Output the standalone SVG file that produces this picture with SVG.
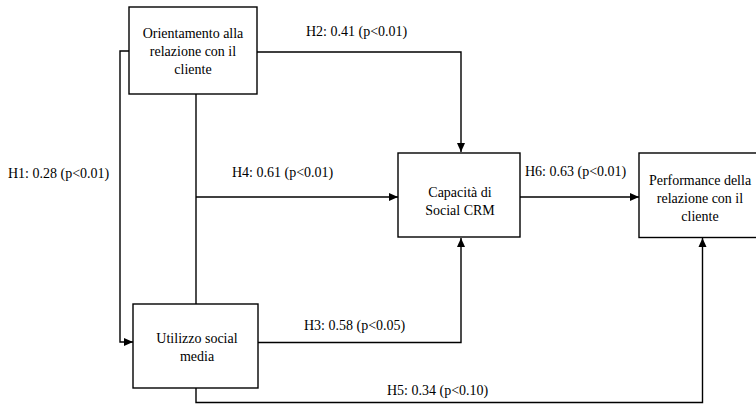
<svg xmlns="http://www.w3.org/2000/svg" width="756" height="404" viewBox="0 0 756 404">
<style>
.box{fill:#fff;stroke:#000;stroke-width:1.4}
.ln{fill:none;stroke:#000;stroke-width:1.4}
text{font-family:'Liberation Serif','Tinos','DejaVu Serif',serif;font-size:14px;fill:#000}
.c{text-anchor:middle}
</style>
<defs>
<marker id="ah" markerUnits="userSpaceOnUse" markerWidth="10" markerHeight="10" refX="9" refY="5" orient="auto">
<path d="M0,1 L9,5 L0,9 Z" fill="#000"/>
</marker>
</defs>
<rect width="756" height="404" fill="#fff"/>
<g id="connectors">
<path class="ln" d="M257,52 H461 V152" marker-end="url(#ah)"/>
<path class="ln" d="M129,51 H120 V342 H133" marker-end="url(#ah)"/>
<path class="ln" d="M196,94 V304"/>
<path class="ln" d="M196,197 H398" marker-end="url(#ah)"/>
<path class="ln" d="M258,342.5 H461 V238" marker-end="url(#ah)"/>
<path class="ln" d="M520,197 H639" marker-end="url(#ah)"/>
<path class="ln" d="M196,388 V402.5 H702.5 V238" marker-end="url(#ah)"/>
<text x="306" y="36" font-family="Liberation Serif, serif">H2: 0.41 (p&lt;0.01)</text>
<text x="8" y="178" font-family="Liberation Serif, serif">H1: 0.28 (p&lt;0.01)</text>
<text x="232" y="177" font-family="Liberation Serif, serif">H4: 0.61 (p&lt;0.01)</text>
<text x="525" y="176" font-family="Liberation Serif, serif">H6: 0.63 (p&lt;0.01)</text>
<text x="304" y="330" font-family="Liberation Serif, serif">H3: 0.58 (p&lt;0.05)</text>
<text x="387" y="395" font-family="Liberation Serif, serif">H5: 0.34 (p&lt;0.10)</text>
</g>
<g id="orientamento">
<rect class="box" x="129" y="7" width="128" height="87"/>
<text class="c" x="193" y="37.5">Orientamento alla</text>
<text class="c" x="193" y="55.5">relazione con il</text>
<text class="c" x="193" y="73.5">cliente</text>
</g>
<g id="capacita">
<rect class="box" x="398" y="153" width="122" height="84"/>
<text class="c" x="460" y="197">Capacità di</text>
<text class="c" x="460" y="215">Social CRM</text>
</g>
<g id="performance">
<rect class="box" x="639" y="153" width="122" height="84.5"/>
<text class="c" x="700" y="185">Performance della</text>
<text class="c" x="700" y="203">relazione con il</text>
<text class="c" x="700" y="221">cliente</text>
</g>
<g id="utilizzo">
<rect class="box" x="133" y="304" width="125" height="84"/>
<text class="c" x="197" y="343">Utilizzo social</text>
<text class="c" x="197" y="361">media</text>
</g>
</svg>
